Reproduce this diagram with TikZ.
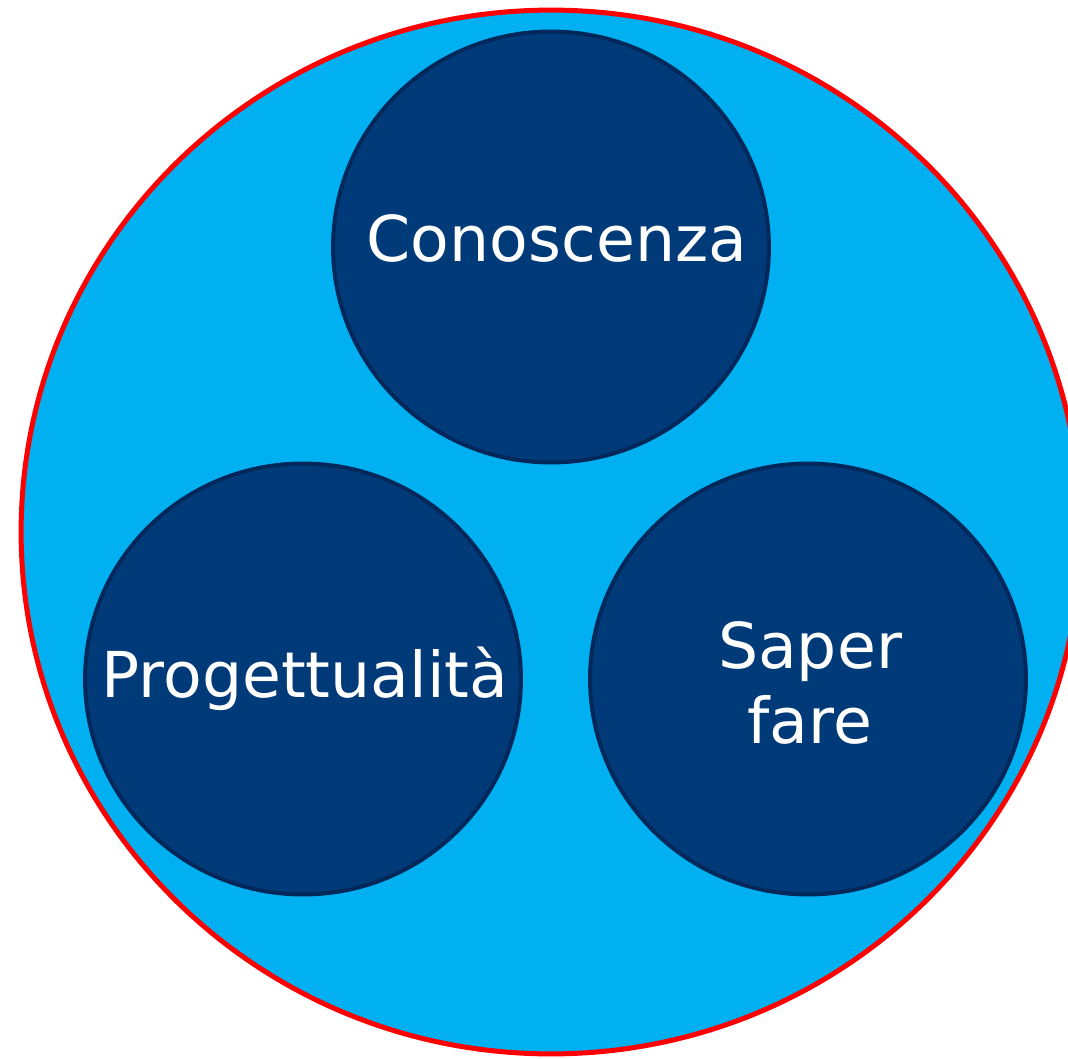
\documentclass[tikz,border=0pt]{standalone}
\usepackage{fontspec}
\setmainfont{DejaVu Sans}
\usepackage{tikz}
\usetikzlibrary{calc,shapes.geometric}
\definecolor{cielo}{HTML}{00B0F0}
\definecolor{notte}{HTML}{003A78}
\definecolor{bordonotte}{HTML}{00285A}
\tikzstyle{ambito}=[ellipse,draw=red,fill=cielo,line width=0.1cm,inner sep=0pt,
                    minimum width=21.2cm,minimum height=20.88cm]
\tikzstyle{bolla}=[ellipse,draw=bordonotte,fill=notte,line width=0.08cm,inner sep=0pt,
                   minimum width=8.72cm,minimum height=8.62cm]
\tikzstyle{scritta}=[text=white,align=center,inner sep=0pt,
                     font=\fontsize{36}{42.7}\selectfont]
\newcommand\colonnaX{551}

\begin{document}
\begin{tikzpicture}[x=0.02cm,y=-0.02cm]
    	\useasboundingbox (0,0) rectangle (1068,1058);
    	\node [ambito] (Ambito) at ($(\colonnaX,532)$) {};
    	\node [bolla] (Conoscenza) at ($(\colonnaX,247)$) {};
    	\node [bolla] (Progettualita) at ($(303,679)$) {};
    	\node [bolla] (Saperfare) at ($(808,679)$) {};
    	\node [scritta] (testo Conoscenza) at ($(Conoscenza.center)+(6,-9)$) {Conoscenza};
    	\node [scritta] (testo Progettualita) at ($(Progettualita.center)+(2,0)$) {Progettualità};
    	\node [scritta] (testo Saperfare) at ($(Saperfare.center)+(2,4)$) {Saper\\fare};
    \end{tikzpicture}
\end{document}
